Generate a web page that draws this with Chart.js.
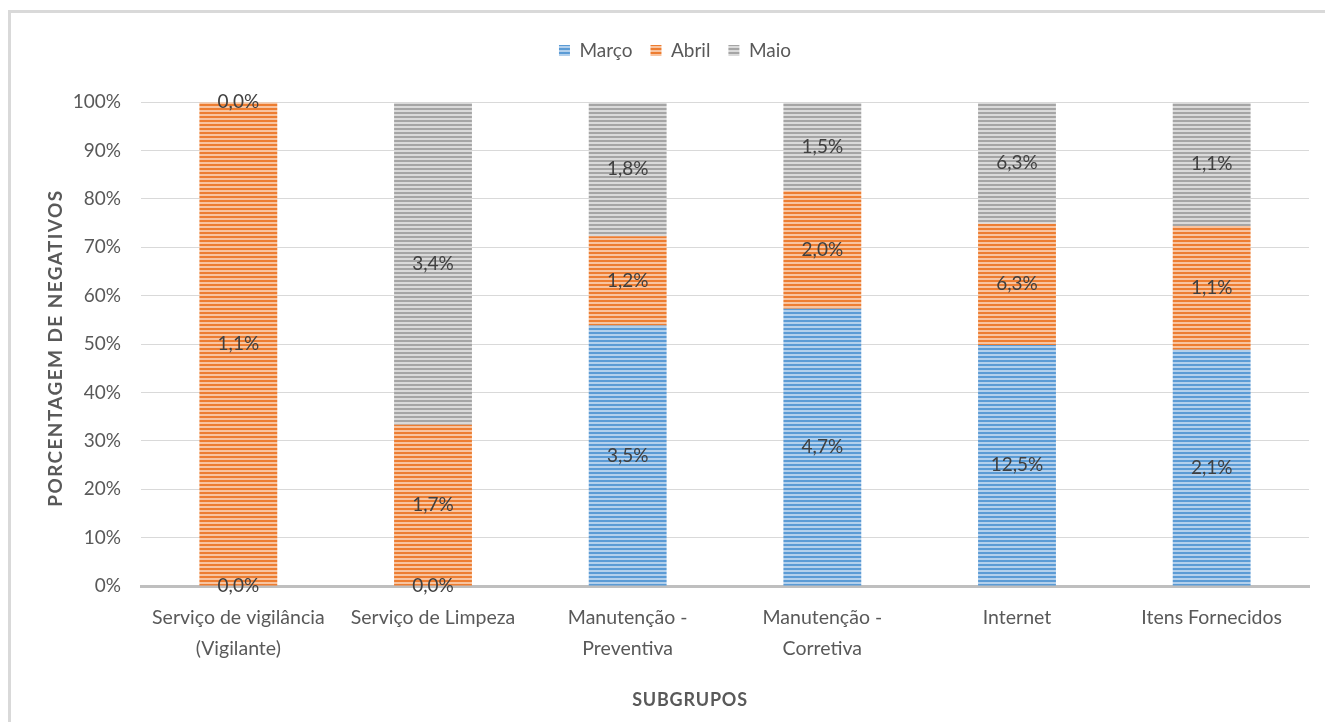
<!DOCTYPE html>
<html>
<head>
<meta charset="utf-8">
<script src="https://cdn.jsdelivr.net/npm/chart.js@4.4.1/dist/chart.umd.min.js"></script>
<style>
  html, body { margin: 0; padding: 0; background: #fff; }
  #wrap { position: absolute; left: 0; top: 0; width: 1325px; height: 722px; }
</style>
</head>
<body>
<div id="wrap"><canvas id="chart"></canvas></div>
<script>
const categories = [
  ["Serviço de vigilância", "(Vigilante)"],
  "Serviço de Limpeza",
  ["Manutenção -", "Preventiva"],
  ["Manutenção -", "Corretiva"],
  "Internet",
  "Itens Fornecidos"
];
const seriesNames = ["Março", "Abril", "Maio"];
const marco = [0.0, 0.0, 3.5, 4.7, 12.5, 2.1];
const abril = [1.1, 1.7, 1.2, 2.0, 6.3, 1.1];
const maio = [0.0, 3.4, 1.8, 1.5, 6.3, 1.1];
const yTicks = [0, 10, 20, 30, 40, 50, 60, 70, 80, 90, 100];

const colors = ["#5b9bd5", "#ed7d31", "#a5a5a5"];
const tints = ["#b3d0ec", "#f8c4a0", "#dadada"];

function stripes(color, tint) {
  const c = document.createElement("canvas");
  c.width = 4;
  c.height = 4;
  const g = c.getContext("2d");
  g.fillStyle = color;
  g.fillRect(0, 0, 4, 2);
  g.fillStyle = tint;
  g.fillRect(0, 2, 4, 2);
  return g.createPattern(c, "repeat");
}

const raw = [marco, abril, maio];
const totals = categories.map((_, i) => marco[i] + abril[i] + maio[i]);

const datasets = raw.map((vals, k) => ({
  label: seriesNames[k],
  raw: vals,
  data: vals.map((v, i) => totals[i] ? v / totals[i] * 100 : 0),
  backgroundColor: stripes(colors[k], tints[k]),
  borderWidth: 0,
  barPercentage: 0.4,
  categoryPercentage: 1
}));

const fmt = v => v.toFixed(1).replace(".", ",") + "%";

const extras = {
  id: "extras",
  beforeDraw(chart) {
    const ctx = chart.ctx;
    ctx.save();
    ctx.fillStyle = "#d9d9d9";
    ctx.fillRect(8, 10, 3, 712);
    ctx.fillRect(8, 10, 1317, 3);
    ctx.restore();
  },
  afterDatasetsDraw(chart) {
    const ctx = chart.ctx;
    ctx.save();
    ctx.font = "19px Lato";
    ctx.fillStyle = "#404040";
    ctx.textAlign = "center";
    ctx.textBaseline = "middle";
    chart.data.datasets.forEach((ds, k) => {
      const meta = chart.getDatasetMeta(k);
      meta.data.forEach((el, i) => {
        const y = (el.y + el.base) / 2;
        ctx.fillText(fmt(ds.raw[i]), el.x, y);
      });
    });
    ctx.restore();
  },
  afterDraw(chart) {
    const ctx = chart.ctx;
    const a = chart.chartArea;
    ctx.save();
    ctx.fillStyle = "#595959";
    ctx.font = "bold 18px Lato";
    ctx.letterSpacing = "0.8px";
    ctx.textAlign = "center";
    ctx.textBaseline = "middle";
    ctx.fillText("SUBGRUPOS", 690, 700);
    ctx.font = "bold 19px Lato";
    ctx.letterSpacing = "1.4px";
    ctx.translate(56, (a.top + a.bottom) / 2 + 4);
    ctx.rotate(-Math.PI / 2);
    ctx.fillText("PORCENTAGEM DE NEGATIVOS", 0, 0);
    ctx.restore();
  }
};

new Chart(document.getElementById("chart"), {
  type: "bar",
  data: { labels: categories, datasets },
  options: {
    responsive: true,
    maintainAspectRatio: false,
    animation: false,
    layout: { padding: { left: 41, right: 16, top: 23, bottom: 0 } },
    plugins: {
      tooltip: { enabled: false },
      legend: {
        position: "top",
        weight: 3000,
        labels: {
          boxWidth: 11,
          boxHeight: 11,
          padding: 18,
          color: "#595959",
          font: { family: "Lato", size: 19 }
        }
      },
      title: {
        display: true,
        text: "",
        font: { size: 1 },
        padding: { top: 0, bottom: 31 }
      }
    },
    scales: {
      x: {
        stacked: true,
        grid: { display: false, drawTicks: false },
        border: { color: "#bfbfbf", width: 3 },
        ticks: {
          color: "#595959",
          padding: 16,
          maxRotation: 0,
          autoSkip: false,
          font: { family: "Lato", size: 19.5, lineHeight: 1.6 }
        },
        afterFit(scale) { scale.height = 136; }
      },
      y: {
        stacked: true,
        min: 0,
        max: 100,
        border: { display: false },
        grid: { color: "#d9d9d9", drawTicks: false },
        afterBuildTicks(scale) { scale.ticks = yTicks.map(v => ({ value: v })); },
        ticks: {
          color: "#595959",
          padding: 20,
          font: { family: "Lato", size: 19 },
          callback: v => v + "%"
        },
        afterFit(scale) { scale.width = 100; }
      }
    }
  },
  plugins: [extras]
});
</script>
</body>
</html>
